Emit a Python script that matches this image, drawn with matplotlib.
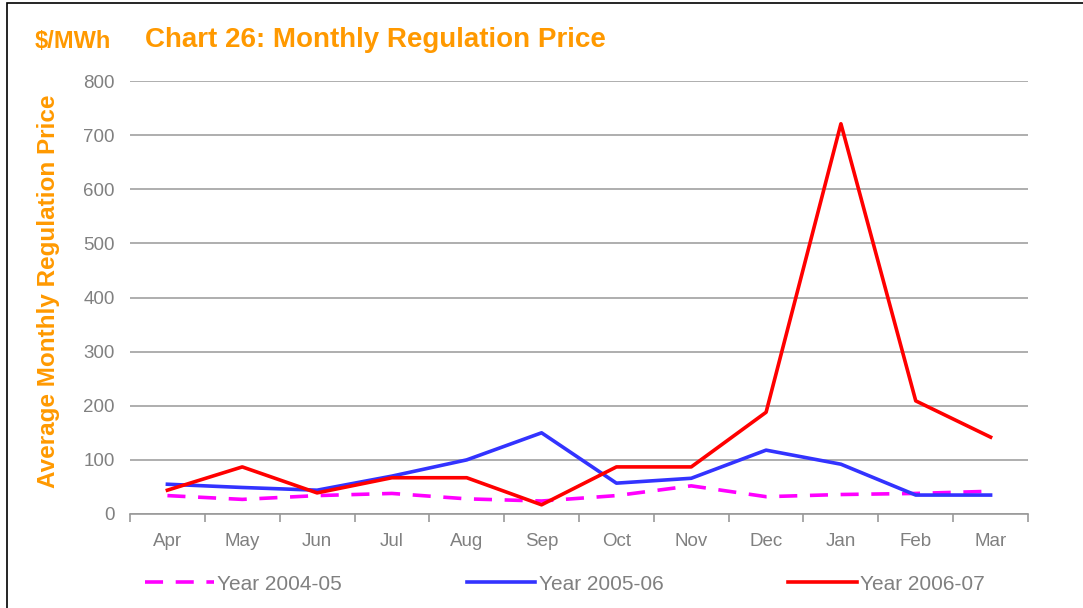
import matplotlib
matplotlib.use("Agg")
import matplotlib.pyplot as plt
from matplotlib.patches import Rectangle

plt.rcParams['font.family'] = ['Liberation Sans', 'DejaVu Sans']

months = ['Apr', 'May', 'Jun', 'Jul', 'Aug', 'Sep', 'Oct', 'Nov', 'Dec', 'Jan', 'Feb', 'Mar']
y2004 = [34, 27, 34, 38, 28, 24, 34, 52, 32, 36, 38, 42]
y2005 = [55, 49, 44, 70, 100, 150, 57, 66, 118, 92, 35, 35]
y2006 = [44, 87, 39, 67, 67, 17, 87, 87, 188, 721, 209, 142]

orange = '#FF9900'
grey = '#808080'

fig = plt.figure(figsize=(10.83, 6.08), dpi=100)
ax = fig.add_axes([130/1083, 1-514/608, (1028-130)/1083, (514-81)/608])

x = list(range(len(months)))
ax.plot(x, y2004, color='#FF00FF', lw=2.6, dashes=(5, 3.5), label='Year 2004-05')
ax.plot(x, y2005, color='#3333FF', lw=2.6, label='Year 2005-06')
ax.plot(x, y2006, color='#FF0000', lw=2.6, label='Year 2006-07')

ax.set_xlim(-0.5, 11.5)
ax.set_ylim(0, 800)
ax.set_yticks(range(0, 801, 100))
ax.set_xticks(x)
ax.set_xticklabels(months)
ax.set_xticks([i - 0.5 for i in range(13)], minor=True)
ax.tick_params(axis='x', which='major', length=0, pad=14, labelsize=13.5, labelcolor=grey)
ax.tick_params(axis='x', which='minor', length=6, color='#999999', width=1.2)
ax.tick_params(axis='y', length=0, pad=11, labelsize=13.5, labelcolor=grey)
ax.grid(axis='y', color='#999999', lw=1.1)
ax.set_axisbelow(True)
for s in ['left', 'right', 'top']:
    ax.spines[s].set_visible(False)
ax.spines['bottom'].set_color('#999999')
ax.spines['bottom'].set_linewidth(1.2)

ax.set_ylabel('Average Monthly Regulation Price', color=orange, fontsize=17.5,
              fontweight='bold')
ax.yaxis.set_label_coords(-0.078, 0.515)

fig.text(35/1083, 1-41/608, '$/MWh', color=orange, fontsize=17, fontweight='bold',
         va='center', ha='left')
fig.text(145/1083, 1-40/608, 'Chart 26: Monthly Regulation Price', color=orange,
         fontsize=20, fontweight='bold', va='center', ha='left')

leg = fig.legend(loc='center', bbox_to_anchor=(565/1083, 1-584/608), ncol=3, frameon=False,
                 fontsize=15, handlelength=3.3, handletextpad=0.15, columnspacing=6.0)
for t in leg.get_texts():
    t.set_color(grey)

fig.patches.append(Rectangle((7/1083, -0.1), 1.2, 1 - 3/608 + 0.1, transform=fig.transFigure,
                             fill=False, edgecolor='black', lw=1.2))

fig.savefig('out.png', dpi=100)
